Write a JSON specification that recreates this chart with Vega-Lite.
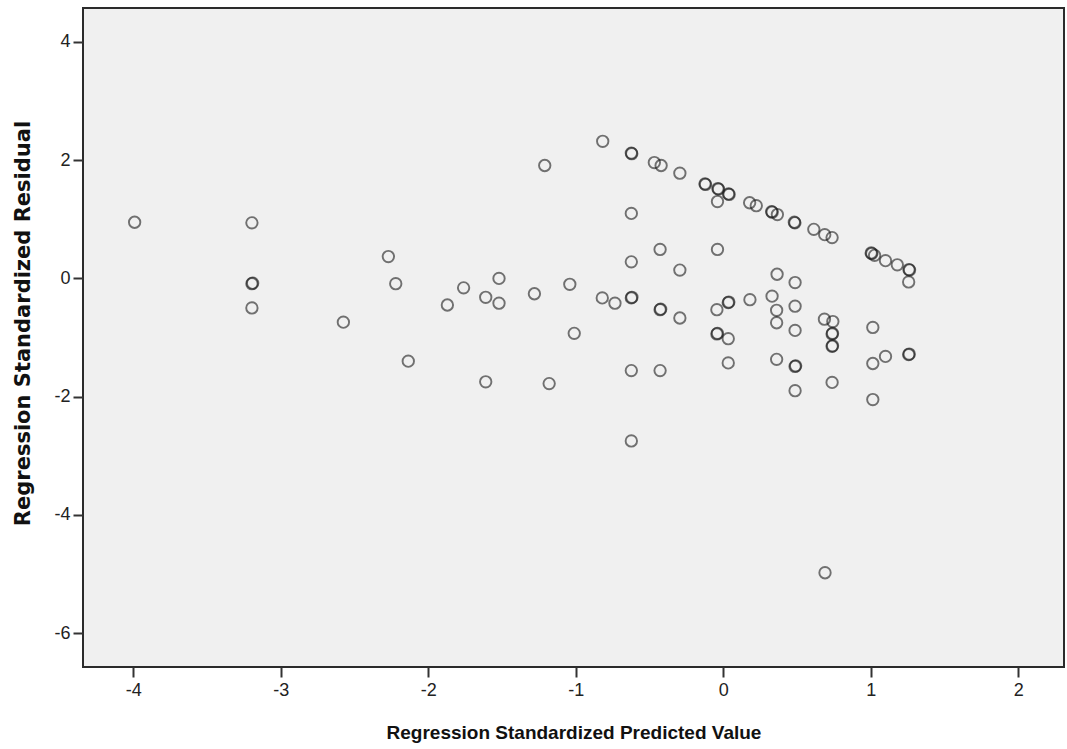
{
  "$schema": "https://vega.github.io/schema/vega-lite/v6.json",
  "width": 981,
  "height": 659,
  "autosize": {"type": "none"},
  "padding": {"left": 83, "top": 8, "right": 3, "bottom": 82},
  "background": "#ffffff",
  "config": {
    "view": {"fill": "#f0f0f0", "stroke": "#2b2b2b", "strokeWidth": 2},
    "font": "Liberation Sans",
    "axis": {
      "grid": false,
      "domain": false,
      "ticks": true,
      "tickColor": "#333333",
      "tickWidth": 2,
      "tickSize": 10,
      "labelFont": "Liberation Sans",
      "labelFontSize": 17,
      "labelColor": "#222222",
      "titleFont": "Liberation Sans",
      "titleFontWeight": "bold",
      "titleFontSize": 19,
      "titleColor": "#111111"
    }
  },
  "data": {
    "values": [
      {"x": -3.99, "y": 0.95},
      {"x": -3.195, "y": 0.94},
      {"x": -3.195, "y": -0.09},
      {"x": -3.19, "y": -0.08},
      {"x": -3.195, "y": -0.50},
      {"x": -2.575, "y": -0.74},
      {"x": -2.27, "y": 0.37},
      {"x": -2.22, "y": -0.09},
      {"x": -2.135, "y": -1.40},
      {"x": -1.87, "y": -0.45},
      {"x": -1.76, "y": -0.16},
      {"x": -1.61, "y": -0.32},
      {"x": -1.52, "y": 0.0},
      {"x": -1.52, "y": -0.42},
      {"x": -1.61, "y": -1.75},
      {"x": -1.28, "y": -0.26},
      {"x": -1.18, "y": -1.78},
      {"x": -1.21, "y": 1.91},
      {"x": -1.04, "y": -0.10},
      {"x": -1.01, "y": -0.93},
      {"x": -0.817, "y": 2.32},
      {"x": -0.623, "y": 2.12},
      {"x": -0.62, "y": 2.11},
      {"x": -0.467, "y": 1.96},
      {"x": -0.421, "y": 1.91},
      {"x": -0.294, "y": 1.78},
      {"x": -0.124, "y": 1.60},
      {"x": -0.12, "y": 1.59},
      {"x": -0.036, "y": 1.52},
      {"x": -0.032, "y": 1.51},
      {"x": 0.036, "y": 1.43},
      {"x": 0.04, "y": 1.42},
      {"x": -0.039, "y": 1.30},
      {"x": 0.179, "y": 1.28},
      {"x": 0.224, "y": 1.23},
      {"x": 0.328, "y": 1.13},
      {"x": 0.332, "y": 1.12},
      {"x": 0.367, "y": 1.08},
      {"x": 0.482, "y": 0.95},
      {"x": 0.486, "y": 0.94},
      {"x": 0.614, "y": 0.83},
      {"x": 0.688, "y": 0.74},
      {"x": 0.738, "y": 0.69},
      {"x": -0.623, "y": 1.10},
      {"x": -0.428, "y": 0.49},
      {"x": -0.039, "y": 0.49},
      {"x": -0.623, "y": 0.28},
      {"x": -0.294, "y": 0.14},
      {"x": 0.365, "y": 0.07},
      {"x": 0.487, "y": -0.07},
      {"x": -0.82, "y": -0.33},
      {"x": -0.734, "y": -0.42},
      {"x": -0.623, "y": -0.33},
      {"x": -0.619, "y": -0.32},
      {"x": -0.428, "y": -0.53},
      {"x": -0.424, "y": -0.52},
      {"x": -0.294, "y": -0.67},
      {"x": -0.043, "y": -0.53},
      {"x": 0.034, "y": -0.41},
      {"x": 0.038, "y": -0.40},
      {"x": 0.181, "y": -0.36},
      {"x": 0.331, "y": -0.30},
      {"x": 0.362, "y": -0.54},
      {"x": 0.362, "y": -0.75},
      {"x": 0.487, "y": -0.47},
      {"x": 0.487, "y": -0.88},
      {"x": -0.043, "y": -0.94},
      {"x": -0.039, "y": -0.93},
      {"x": 0.034, "y": -1.02},
      {"x": 0.034, "y": -1.43},
      {"x": 0.362, "y": -1.37},
      {"x": 0.487, "y": -1.49},
      {"x": 0.491, "y": -1.48},
      {"x": 0.487, "y": -1.90},
      {"x": 0.686, "y": -0.69},
      {"x": 0.743, "y": -0.73},
      {"x": 0.738, "y": -0.94},
      {"x": 0.741, "y": -0.93},
      {"x": 0.738, "y": -1.15},
      {"x": 0.741, "y": -1.14},
      {"x": 0.738, "y": -1.76},
      {"x": -0.623, "y": -1.56},
      {"x": -0.428, "y": -1.56},
      {"x": -0.623, "y": -2.75},
      {"x": 1.014, "y": -0.83},
      {"x": 1.10, "y": -1.32},
      {"x": 1.014, "y": -1.44},
      {"x": 1.257, "y": -1.29},
      {"x": 1.261, "y": -1.28},
      {"x": 1.014, "y": -2.05},
      {"x": 1.003, "y": 0.43},
      {"x": 1.007, "y": 0.42},
      {"x": 1.026, "y": 0.39},
      {"x": 1.10, "y": 0.30},
      {"x": 1.18, "y": 0.23},
      {"x": 1.259, "y": 0.15},
      {"x": 1.263, "y": 0.14},
      {"x": 1.257, "y": -0.06},
      {"x": 0.69, "y": -4.98}
    ]
  },
  "mark": {
    "type": "point",
    "shape": "circle",
    "filled": false,
    "size": 130,
    "stroke": "#1a1a1a",
    "strokeWidth": 1.9,
    "strokeOpacity": 0.85
  },
  "encoding": {
    "x": {
      "field": "x",
      "type": "quantitative",
      "scale": {"domain": [-4.34, 2.31], "nice": false, "zero": false},
      "axis": {
        "title": "Regression Standardized Predicted Value",
        "values": [-4, -3, -2, -1, 0, 1, 2],
        "labelExpr": "'' + datum.value",
        "labelFontSize": 18,
        "labelPadding": 4,
        "titlePadding": 24
      }
    },
    "y": {
      "field": "y",
      "type": "quantitative",
      "scale": {"domain": [-6.575, 4.575], "nice": false, "zero": false},
      "axis": {
        "title": "Regression Standardized Residual",
        "values": [-6, -4, -2, 0, 2, 4],
        "labelExpr": "'' + datum.value",
        "labelFontSize": 18,
        "labelPadding": 3,
        "titleFont": "DejaVu Sans",
        "titleFontSize": 21,
        "titlePadding": 20,
        "titleY": 315
      }
    }
  }
}
